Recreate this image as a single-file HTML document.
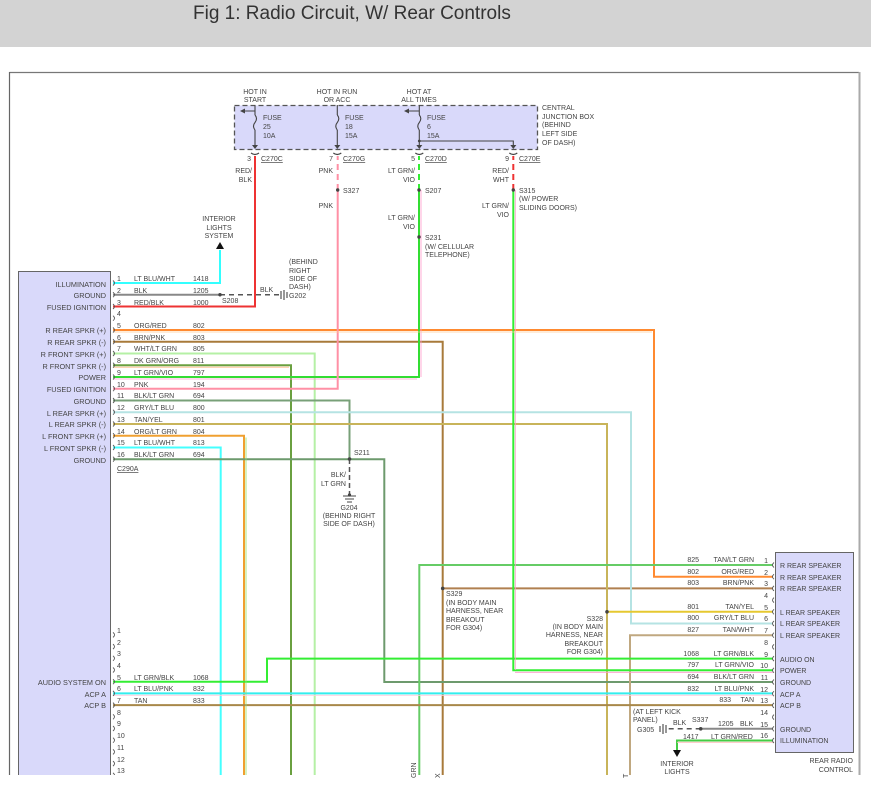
<!DOCTYPE html>
<html><head><meta charset="utf-8"><style>
html,body{margin:0;padding:0;background:#fff;width:871px;height:788px;overflow:hidden}
svg{display:block}
text{font-family:"Liberation Sans",sans-serif;fill:#444}
.s{font-size:7px}
.l{font-size:7.3px}
.t{font-size:19px;fill:#333}
</style></head><body>
<svg width="871" height="788" viewBox="0 0 871 788" xmlns="http://www.w3.org/2000/svg">
<rect x="0" y="0" width="871" height="47" fill="#d3d3d3"/>
<text class="t" x="193" y="19">Fig 1: Radio Circuit, W/ Rear Controls</text>
<defs><clipPath id="c"><rect x="0" y="60" width="871" height="715"/></clipPath></defs>
<line x1="9.5" y1="72.5" x2="859" y2="72.5" stroke="#777" stroke-width="1.2"/>
<line x1="9.5" y1="72" x2="9.5" y2="775" stroke="#666" stroke-width="1.2"/>
<line x1="859.5" y1="72" x2="859.5" y2="775" stroke="#aaa" stroke-width="2"/>
<g clip-path="url(#c)">
<!-- components -->
<rect x="18.5" y="271.5" width="92" height="510" fill="#d9d9fa" stroke="#666" stroke-width="1"/>
<rect x="775.5" y="552.5" width="78" height="200" fill="#d9d9fa" stroke="#666" stroke-width="1"/>
<rect x="234.5" y="105.5" width="303" height="44" fill="#d9d9fa" stroke="#555" stroke-width="1.3" stroke-dasharray="5,3"/>

<g fill="none" stroke-width="2">
<!-- left top connector wires -->
<path d="M113 283H220V250" stroke="#3ff"/>
<path d="M113 294.75H220" stroke="#888"/>
<path d="M220 294.75H279" stroke="#555" stroke-width="1.5" stroke-dasharray="5,4"/>
<path d="M113 306.5H255V156" stroke="#e33"/>
<path d="M113 330H654V576.7H773" stroke="#ff8a30"/>
<path d="M113 341.75H442.7V775" stroke="#a87a3a"/>
<path d="M442.7 588.4H773" stroke="#b08050"/>
<path d="M113 353.5H314.7V775" stroke="#b5f0a5"/>
<path d="M113 365.25H291V775" stroke="#6aa040"/>
<path d="M113 377H419V190" stroke="#3d3"/>
<path d="M419 190V156" stroke="#3e3" stroke-dasharray="6,4"/>
<path d="M113 388.75H337.7V190" stroke="#ff90a5"/>
<path d="M337.7 190V156" stroke="#ff90a5" stroke-dasharray="6,4"/>
<path d="M113 400.5H349.5V459" stroke="#78a078"/>
<path d="M113 412.25H631V623.5H773" stroke="#b5e3e3"/>
<path d="M113 424H607V775" stroke="#c8b45a"/>
<path d="M607 611.8H773" stroke="#e6c830"/>
<path d="M113 435.75H244V775" stroke="#f0a030"/>
<path d="M113 447.5H220.7V775" stroke="#4ff"/>
<path d="M113 459.25H384.3V682H773" stroke="#6d9a6d"/>
<path d="M349.5 459V495" stroke="#555" stroke-width="1.5" stroke-dasharray="5,3"/>
<!-- right side -->
<path d="M773 565H419.3V775" stroke="#6c6"/>
<path d="M773 635.2H630V775" stroke="#c0a880"/>
<path d="M773 670.3H513.3V190" stroke="#3e3"/>
<path d="M513.3 190V156" stroke="#e33" stroke-dasharray="6,4"/>
<path d="M113 681.7H267V658.6H773" stroke="#3e3"/>
<path d="M113 693.4H773" stroke="#3ee"/>
<path d="M113 705.1H773" stroke="#a8884a"/>
<path d="M773 728.8H700.7" stroke="#888"/>
<path d="M700.7 728.8H668" stroke="#555" stroke-width="1.5" stroke-dasharray="5,4"/>
<path d="M773 740.5H677V751" stroke="#4c4"/>
</g>
<!-- stripes -->
<g fill="none" stroke-width="0.8">
<path d="M113 379H417" stroke="#f9c"/>
<path d="M421 377V190" stroke="#f9c"/>
<path d="M515.3 670V190" stroke="#f9c"/>
<path d="M515 672.3H773" stroke="#f9c"/>
<path d="M113 367.2H289" stroke="#fb8"/>
<path d="M246 437.5V775" stroke="#9d6"/>
<path d="M113 332H652" stroke="#fc9"/>
<path d="M113 695.3H773" stroke="#fcd"/>
<path d="M677 742.3H773" stroke="#fbb"/>
</g>
<!-- fuse box internals -->
<g stroke="#444" stroke-width="1.1" fill="none">
<path d="M255 105V115M255 130V146"/><path d="M255 115q3 3.5 0 7.5q-3 3.5 0 7.5"/>
<path d="M337.3 105V115M337.3 130V146"/><path d="M337.3 115q3 3.5 0 7.5q-3 3.5 0 7.5"/>
<path d="M419.3 105V115M419.3 130V146"/><path d="M419.3 115q3 3.5 0 7.5q-3 3.5 0 7.5"/>
<path d="M255 111H244M419.3 111H408"/>
<path d="M419.3 141H513.3V146"/>
<path d="M251 153q4 3 8 0M333.3 153q4 3 8 0M415.3 153q4 3 8 0M509.3 153q4 3 8 0"/>
</g>
<g fill="#444">
<path d="M240 111l5-2.5v5z"/><path d="M404 111l5-2.5v5z"/>
<path d="M252 145h6l-3 4z"/><path d="M334.3 145h6l-3 4z"/><path d="M416.3 145h6l-3 4z"/><path d="M510.3 145h6l-3 4z"/>
<circle cx="419.3" cy="141" r="1.4"/>
<circle cx="220" cy="294.75" r="1.7"/><circle cx="337.7" cy="190" r="1.7"/><circle cx="419" cy="190" r="1.7"/><circle cx="419" cy="237" r="1.7"/><circle cx="513.3" cy="190" r="1.7"/>
<circle cx="349.5" cy="459" r="1.8"/><circle cx="442.7" cy="588.4" r="1.8"/><circle cx="607" cy="611.8" r="1.8"/><circle cx="700.7" cy="728.8" r="1.8"/>
<path d="M220 242l-4 7h8z" fill="#111"/><path d="M677 757l-4-7h8z" fill="#111"/>
</g>
<!-- grounds -->
<g stroke="#444" stroke-width="1.1">
<path d="M281 291v8M284 290v10M287 292v6"/>
<path d="M343 496h13M345 499h9M347 502h5"/>
<path d="M666 725v8M663 724v10M660 726v6"/>
</g>
<circle cx="349.5" cy="495" r="1.6" fill="#444"/>
<!-- connector curls -->
<g stroke="#555" stroke-width="0.9" fill="none">
<path d="M113 280.5q3 2.5 0 5M113 292.2q3 2.5 0 5M113 304q3 2.5 0 5M113 315.7q3 2.5 0 5M113 327.5q3 2.5 0 5M113 339.2q3 2.5 0 5M113 351q3 2.5 0 5M113 362.7q3 2.5 0 5M113 374.5q3 2.5 0 5M113 386.2q3 2.5 0 5M113 398q3 2.5 0 5M113 409.7q3 2.5 0 5M113 421.5q3 2.5 0 5M113 433.2q3 2.5 0 5M113 445q3 2.5 0 5M113 456.7q3 2.5 0 5"/>
<path d="M113 632.4q3 2.5 0 5M113 644.1q3 2.5 0 5M113 655.8q3 2.5 0 5M113 667.5q3 2.5 0 5M113 679.2q3 2.5 0 5M113 690.9q3 2.5 0 5M113 702.6q3 2.5 0 5M113 714.3q3 2.5 0 5M113 726q3 2.5 0 5M113 737.7q3 2.5 0 5M113 749.4q3 2.5 0 5M113 761.1q3 2.5 0 5M113 772.8q3 2.5 0 5"/>
<path d="M774 562.5q-3 2.5 0 5M774 574.2q-3 2.5 0 5M774 585.9q-3 2.5 0 5M774 597.6q-3 2.5 0 5M774 609.3q-3 2.5 0 5M774 621q-3 2.5 0 5M774 632.7q-3 2.5 0 5M774 644.4q-3 2.5 0 5M774 656.1q-3 2.5 0 5M774 667.8q-3 2.5 0 5M774 679.5q-3 2.5 0 5M774 691.2q-3 2.5 0 5M774 702.9q-3 2.5 0 5M774 714.6q-3 2.5 0 5M774 726.3q-3 2.5 0 5M774 738q-3 2.5 0 5"/>
</g>
</g>

<!-- top labels -->
<g class="s">
<text x="255" y="94" text-anchor="middle">HOT IN</text><text x="255" y="102" text-anchor="middle">START</text>
<text x="337" y="94" text-anchor="middle">HOT IN RUN</text><text x="337" y="102" text-anchor="middle">OR ACC</text>
<text x="419" y="94" text-anchor="middle">HOT AT</text><text x="419" y="102" text-anchor="middle">ALL TIMES</text>
<text x="263" y="120">FUSE</text><text x="263" y="129">25</text><text x="263" y="138">10A</text>
<text x="345" y="120">FUSE</text><text x="345" y="129">18</text><text x="345" y="138">15A</text>
<text x="427" y="120">FUSE</text><text x="427" y="129">6</text><text x="427" y="138">15A</text>
<text x="542" y="110">CENTRAL</text><text x="542" y="119">JUNCTION BOX</text><text x="542" y="127">(BEHIND</text><text x="542" y="136">LEFT SIDE</text><text x="542" y="145">OF DASH)</text>
<text x="251" y="161" text-anchor="end">3</text><text x="261" y="161" text-decoration="underline">C270C</text>
<text x="333" y="161" text-anchor="end">7</text><text x="343" y="161" text-decoration="underline">C270G</text>
<text x="415" y="161" text-anchor="end">5</text><text x="425" y="161" text-decoration="underline">C270D</text>
<text x="509" y="161" text-anchor="end">9</text><text x="519" y="161" text-decoration="underline">C270E</text>
<text x="252" y="173" text-anchor="end">RED/</text><text x="252" y="182" text-anchor="end">BLK</text>
<text x="333" y="173" text-anchor="end">PNK</text><text x="333" y="208" text-anchor="end">PNK</text>
<text x="343" y="193">S327</text>
<text x="415" y="173" text-anchor="end">LT GRN/</text><text x="415" y="182" text-anchor="end">VIO</text>
<text x="425" y="193">S207</text>
<text x="415" y="220" text-anchor="end">LT GRN/</text><text x="415" y="229" text-anchor="end">VIO</text>
<text x="425" y="240">S231</text><text x="425" y="249">(W/ CELLULAR</text><text x="425" y="257">TELEPHONE)</text>
<text x="509" y="173" text-anchor="end">RED/</text><text x="509" y="182" text-anchor="end">WHT</text>
<text x="519" y="193">S315</text><text x="519" y="201">(W/ POWER</text><text x="519" y="210">SLIDING DOORS)</text>
<text x="509" y="208" text-anchor="end">LT GRN/</text><text x="509" y="217" text-anchor="end">VIO</text>
<text x="219" y="221" text-anchor="middle">INTERIOR</text><text x="219" y="230" text-anchor="middle">LIGHTS</text><text x="219" y="238" text-anchor="middle">SYSTEM</text>
<text x="289" y="264">(BEHIND</text><text x="289" y="273">RIGHT</text><text x="289" y="281">SIDE OF</text><text x="289" y="289">DASH)</text><text x="289" y="298">G202</text>
<text x="260" y="292">BLK</text><text x="222" y="303">S208</text>
<text x="354" y="455">S211</text>
<text x="346" y="477" text-anchor="end">BLK/</text><text x="346" y="486" text-anchor="end">LT GRN</text>
<text x="349" y="510" text-anchor="middle">G204</text><text x="349" y="518" text-anchor="middle">(BEHIND RIGHT</text><text x="349" y="526" text-anchor="middle">SIDE OF DASH)</text>
<text x="446" y="596">S329</text><text x="446" y="605">(IN BODY MAIN</text><text x="446" y="613">HARNESS, NEAR</text><text x="446" y="622">BREAKOUT</text><text x="446" y="630">FOR G304)</text>
<text x="603" y="621" text-anchor="end">S328</text><text x="603" y="629" text-anchor="end">(IN BODY MAIN</text><text x="603" y="637" text-anchor="end">HARNESS, NEAR</text><text x="603" y="646" text-anchor="end">BREAKOUT</text><text x="603" y="654" text-anchor="end">FOR G304)</text>
<text x="633" y="714">(AT LEFT KICK</text><text x="633" y="722">PANEL)</text><text x="637" y="732">G305</text>
<text x="673" y="725">BLK</text><text x="692" y="722">S337</text><text x="718" y="726">1205</text><text x="740" y="726">BLK</text>
<text x="683" y="739">1417</text><text x="711" y="739">LT GRN/RED</text>
<text x="677" y="766" text-anchor="middle">INTERIOR</text><text x="677" y="774" text-anchor="middle">LIGHTS</text>
<text x="853" y="763" text-anchor="end">REAR RADIO</text><text x="853" y="772" text-anchor="end">CONTROL</text>
<text x="117" y="471" text-decoration="underline">C290A</text>
<text transform="translate(416 778) rotate(-90)">GRN</text>
<text transform="translate(440 778) rotate(-90)">X</text>
<text transform="translate(628 778) rotate(-90)">T</text>
</g>

<!-- left labels -->
<g class="l" text-anchor="end">
<text x="106" y="287">ILLUMINATION</text><text x="106" y="298">GROUND</text><text x="106" y="310">FUSED IGNITION</text>
<text x="106" y="333">R REAR SPKR (+)</text><text x="106" y="345">R REAR SPKR (-)</text><text x="106" y="357">R FRONT SPKR (+)</text><text x="106" y="369">R FRONT SPKR (-)</text>
<text x="106" y="380">POWER</text><text x="106" y="392">FUSED IGNITION</text><text x="106" y="404">GROUND</text>
<text x="106" y="416">L REAR SPKR (+)</text><text x="106" y="427">L REAR SPKR (-)</text><text x="106" y="439">L FRONT SPKR (+)</text><text x="106" y="451">L FRONT SPKR (-)</text><text x="106" y="463">GROUND</text>
<text x="106" y="685">AUDIO SYSTEM ON</text><text x="106" y="697">ACP A</text><text x="106" y="708">ACP B</text>
</g>
<g class="s">
<text x="117" y="281">1</text><text x="134" y="281">LT BLU/WHT</text><text x="193" y="281">1418</text>
<text x="117" y="293">2</text><text x="134" y="293">BLK</text><text x="193" y="293">1205</text>
<text x="117" y="305">3</text><text x="134" y="305">RED/BLK</text><text x="193" y="305">1000</text>
<text x="117" y="316">4</text>
<text x="117" y="328">5</text><text x="134" y="328">ORG/RED</text><text x="193" y="328">802</text>
<text x="117" y="340">6</text><text x="134" y="340">BRN/PNK</text><text x="193" y="340">803</text>
<text x="117" y="351">7</text><text x="134" y="351">WHT/LT GRN</text><text x="193" y="351">805</text>
<text x="117" y="363">8</text><text x="134" y="363">DK GRN/ORG</text><text x="193" y="363">811</text>
<text x="117" y="375">9</text><text x="134" y="375">LT GRN/VIO</text><text x="193" y="375">797</text>
<text x="117" y="387">10</text><text x="134" y="387">PNK</text><text x="193" y="387">194</text>
<text x="117" y="398">11</text><text x="134" y="398">BLK/LT GRN</text><text x="193" y="398">694</text>
<text x="117" y="410">12</text><text x="134" y="410">GRY/LT BLU</text><text x="193" y="410">800</text>
<text x="117" y="422">13</text><text x="134" y="422">TAN/YEL</text><text x="193" y="422">801</text>
<text x="117" y="434">14</text><text x="134" y="434">ORG/LT GRN</text><text x="193" y="434">804</text>
<text x="117" y="445">15</text><text x="134" y="445">LT BLU/WHT</text><text x="193" y="445">813</text>
<text x="117" y="457">16</text><text x="134" y="457">BLK/LT GRN</text><text x="193" y="457">694</text>
<text x="117" y="633" fill="#a33">1</text><text x="117" y="645">2</text><text x="117" y="656">3</text><text x="117" y="668">4</text>
<text x="117" y="680">5</text><text x="134" y="680">LT GRN/BLK</text><text x="193" y="680">1068</text>
<text x="117" y="691">6</text><text x="134" y="691">LT BLU/PNK</text><text x="193" y="691">832</text>
<text x="117" y="703">7</text><text x="134" y="703">TAN</text><text x="193" y="703">833</text>
<text x="117" y="715">8</text><text x="117" y="726" fill="#a33">9</text><text x="117" y="738" fill="#a33">10</text><text x="117" y="750">11</text><text x="117" y="762" fill="#a33">12</text><text x="117" y="773" fill="#a33">13</text>
</g>
<!-- right connector labels -->
<g class="s">
<g text-anchor="end">
<text x="768" y="563">1</text><text x="768" y="575">2</text><text x="768" y="586">3</text><text x="768" y="598">4</text><text x="768" y="610">5</text><text x="768" y="621">6</text><text x="768" y="633">7</text><text x="768" y="645">8</text><text x="768" y="657">9</text><text x="768" y="668">10</text><text x="768" y="680">11</text><text x="768" y="692">12</text><text x="768" y="703">13</text><text x="768" y="715">14</text><text x="768" y="727">15</text><text x="768" y="738">16</text>
<text x="699" y="562">825</text><text x="754" y="562">TAN/LT GRN</text>
<text x="699" y="574">802</text><text x="754" y="574">ORG/RED</text>
<text x="699" y="585">803</text><text x="754" y="585">BRN/PNK</text>
<text x="699" y="609">801</text><text x="754" y="609">TAN/YEL</text>
<text x="699" y="620">800</text><text x="754" y="620">GRY/LT BLU</text>
<text x="699" y="632">827</text><text x="754" y="632">TAN/WHT</text>
<text x="699" y="656">1068</text><text x="754" y="656">LT GRN/BLK</text>
<text x="699" y="667">797</text><text x="754" y="667">LT GRN/VIO</text>
<text x="699" y="679">694</text><text x="754" y="679">BLK/LT GRN</text>
<text x="699" y="691">832</text><text x="754" y="691">LT BLU/PNK</text>
<text x="731" y="702">833</text><text x="754" y="702">TAN</text>
</g>
<text x="780" y="568">R REAR SPEAKER</text><text x="780" y="580">R REAR SPEAKER</text><text x="780" y="591">R REAR SPEAKER</text>
<text x="780" y="615">L REAR SPEAKER</text><text x="780" y="626">L REAR SPEAKER</text><text x="780" y="638">L REAR SPEAKER</text>
<text x="780" y="662">AUDIO ON</text><text x="780" y="673">POWER</text><text x="780" y="685">GROUND</text><text x="780" y="697">ACP A</text><text x="780" y="708">ACP B</text>
<text x="780" y="732">GROUND</text><text x="780" y="743">ILLUMINATION</text>
</g>
</svg>
</body></html>
